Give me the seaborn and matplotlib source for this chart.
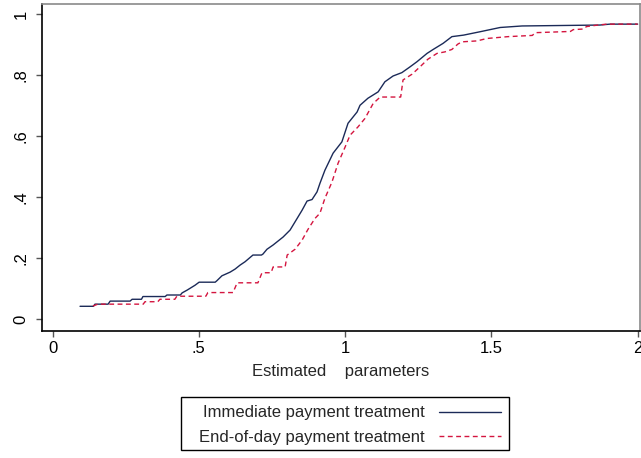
import matplotlib
matplotlib.use("Agg")
import matplotlib.pyplot as plt
from matplotlib.patches import Rectangle
import seaborn as sns
import pandas as pd

# Cumulative share of subjects by estimated parameter, per treatment
immediate_x = [0.094, 0.140, 0.145, 0.190, 0.197, 0.265, 0.272, 0.304, 0.309, 0.385,
               0.391, 0.437, 0.443, 0.460, 0.487, 0.501, 0.556, 0.562, 0.579, 0.607,
               0.624, 0.641, 0.658, 0.685, 0.714, 0.719, 0.733, 0.754, 0.788, 0.812,
               0.836, 0.853, 0.870, 0.887, 0.904, 0.914, 0.931, 0.959, 0.989, 1.010,
               1.041, 1.051, 1.078, 1.113, 1.136, 1.164, 1.194, 1.222, 1.246, 1.280,
               1.301, 1.335, 1.365, 1.405, 1.461, 1.530, 1.605, 1.871, 1.905, 2.000]
immediate_y = [0.043, 0.043, 0.050, 0.050, 0.060, 0.060, 0.066, 0.066, 0.075, 0.075,
               0.080, 0.080, 0.087, 0.096, 0.112, 0.122, 0.122, 0.127, 0.143, 0.155,
               0.165, 0.178, 0.189, 0.211, 0.211, 0.214, 0.230, 0.244, 0.270, 0.293,
               0.331, 0.358, 0.388, 0.393, 0.418, 0.446, 0.489, 0.545, 0.582, 0.643,
               0.680, 0.702, 0.725, 0.746, 0.779, 0.798, 0.809, 0.828, 0.845, 0.872,
               0.885, 0.905, 0.927, 0.932, 0.943, 0.957, 0.962, 0.965, 0.968, 0.968]

end_of_day_x = [0.138, 0.155, 0.310, 0.316, 0.360, 0.367, 0.418, 0.425, 0.524, 0.531,
                0.617, 0.631, 0.702, 0.716, 0.747, 0.754, 0.795, 0.802, 0.829, 0.853,
                0.873, 0.897, 0.914, 0.931, 0.955, 0.976, 1.000, 1.017, 1.044, 1.068,
                1.096, 1.120, 1.190, 1.198, 1.229, 1.256, 1.283, 1.314, 1.341, 1.365,
                1.386, 1.400, 1.451, 1.485, 1.557, 1.640, 1.650, 1.770, 1.780, 1.815,
                1.825, 1.864, 1.895, 2.000]
end_of_day_y = [0.044, 0.050, 0.050, 0.058, 0.058, 0.066, 0.066, 0.076, 0.076, 0.088,
                0.088, 0.120, 0.120, 0.153, 0.153, 0.172, 0.172, 0.211, 0.230, 0.260,
                0.295, 0.331, 0.348, 0.397, 0.450, 0.512, 0.565, 0.604, 0.631, 0.659,
                0.708, 0.729, 0.729, 0.785, 0.804, 0.828, 0.853, 0.872, 0.877, 0.885,
                0.903, 0.910, 0.913, 0.921, 0.927, 0.931, 0.940, 0.944, 0.950, 0.952,
                0.960, 0.965, 0.968, 0.968]

labels = ["Immediate payment treatment", "End-of-day payment treatment"]
x_ticks = [0, 0.5, 1, 1.5, 2]
x_ticklabels = ["0", ".5", "1", "1.5", "2"]
y_ticks = [0, 0.2, 0.4, 0.6, 0.8, 1]
y_ticklabels = ["0", ".2", ".4", ".6", ".8", "1"]

sns.set_style("ticks")
plt.rcParams["font.family"] = ["Liberation Sans", "DejaVu Sans"]

navy = "#1b2a58"
crimson = "#d4153f"
font_size = 12
W, H = 641, 458

fig = plt.figure(figsize=(W / 100, H / 100), dpi=100)
ax = fig.add_axes([42 / W, 1 - 331 / H, 598 / W, 327 / H])

imm = pd.DataFrame({"x": immediate_x, "y": immediate_y})
eod = pd.DataFrame({"x": end_of_day_x, "y": end_of_day_y})

sns.lineplot(data=imm, x="x", y="y", sort=False, ax=ax, color=navy,
             linewidth=1.0, label=labels[0])
sns.lineplot(data=eod, x="x", y="y", sort=False, ax=ax, color=crimson,
             linewidth=1.0, linestyle=(0, (3.5, 2.5)), label=labels[1])

ax.set_xlim(-0.036, 2.008)
ax.set_ylim(-0.038, 1.034)
ax.set_xticks(x_ticks)
ax.set_xticklabels(x_ticklabels)
ax.set_yticks(y_ticks)
ax.set_yticklabels(y_ticklabels, rotation=90, va="center")
ax.tick_params(axis="both", direction="out", length=4.5, width=1.0,
               color="#555555", labelsize=font_size, labelcolor="black")
ax.tick_params(axis="x", pad=3)
ax.tick_params(axis="y", pad=5)

for side in ["left", "bottom"]:
    ax.spines[side].set_color("black")
    ax.spines[side].set_linewidth(1.2)
for side in ["top", "right"]:
    ax.spines[side].set_visible(True)
    ax.spines[side].set_color("#8a8a8a")
    ax.spines[side].set_linewidth(1.2)

ax.set_xlabel("Estimated    parameters", fontsize=font_size, labelpad=5.5)
ax.set_ylabel("")

# Legend below the plot: labels right-aligned, keys on the right, boxed
ax.get_legend().remove()
handles, lbls = ax.get_legend_handles_labels()
leg = fig.legend(handles, lbls, loc="upper right",
                 bbox_to_anchor=(509 / W, 1 - 397 / H),
                 markerfirst=False, frameon=False,
                 fontsize=font_size, handlelength=3.7, borderpad=0.5,
                 labelspacing=0.58, handletextpad=0.85, borderaxespad=0)
for t in leg.get_texts():
    t.set_ha("right")
fig.patches.append(Rectangle((181 / W, 1 - 450 / H), 328 / W, 53 / H,
                             transform=fig.transFigure, fill=False,
                             edgecolor="black", linewidth=1.0))

fig.savefig("out.png", dpi=100)
